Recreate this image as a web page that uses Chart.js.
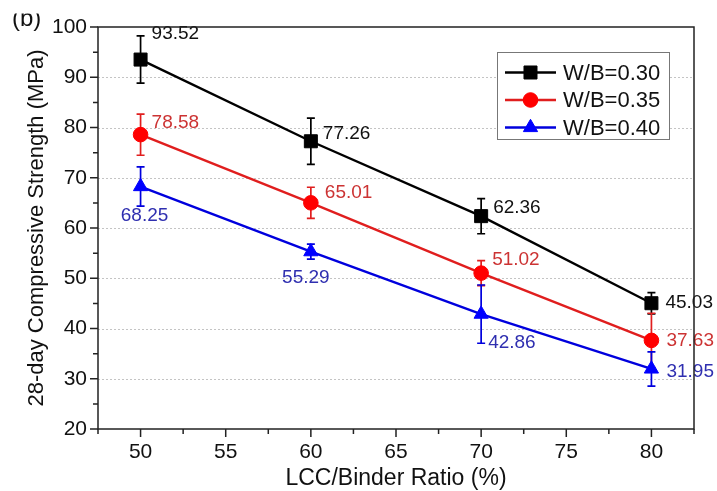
<!DOCTYPE html>
<html>
<head>
<meta charset="utf-8">
<script src="https://cdn.jsdelivr.net/npm/chart.js@4.4.1/dist/chart.umd.min.js"></script>
<style>
  html, body { margin: 0; padding: 0; background: #fff; }
  #wrap { width: 717px; height: 491px; position: relative; }
</style>
</head>
<body>
<div id="wrap"><canvas id="strength-chart"></canvas></div>
<script>
// LCC/binder ratio (%) against 28-day compressive strength (MPa)
const lccRatio = [50, 60, 70, 80];
const strengthWB030 = [93.52, 77.26, 62.36, 45.03];
const strengthWB035 = [78.58, 65.01, 51.02, 37.63];
const strengthWB040 = [68.25, 55.29, 42.86, 31.95];
const errorWB030 = [4.7, 4.6, 3.5, 2.1];
const errorWB035 = [4.1, 3.1, 2.5, 5.4];
const errorWB040 = [3.9, 1.5, 5.8, 3.4];
const seriesNames = ['W/B=0.30', 'W/B=0.35', 'W/B=0.40'];
const xTicks = [50, 55, 60, 65, 70, 75, 80];
const yTicks = [20, 30, 40, 50, 60, 70, 80, 90, 100];

// where each value label sits relative to its point: [dx, dy, align]
const placeWB030 = [[11, -26, 'left'], [12, -8, 'left'], [12, -8, 'left'], [14, 0, 'left']];
const placeWB035 = [[11, -12, 'left'], [14, -10, 'left'], [11, -13, 'left'], [15, 0, 'left']];
const placeWB040 = [[4, 29, 'center'], [-5, 26, 'center'], [7, 29, 'left'], [15, 3, 'left']];

const FONT = '"Liberation Sans", Arial, Helvetica, sans-serif';
Chart.defaults.font.family = FONT;
Chart.defaults.color = '#111';

function makeSeries(label, values, errors, line, fill, style, radius, textColor, place) {
    return {
        label: label,
        data: lccRatio.map((x, i) => ({ x: x, y: values[i] })),
        errors: errors,
        textColor: textColor,
        place: place,
        borderColor: line,
        backgroundColor: fill,
        pointBackgroundColor: fill,
        pointBorderColor: fill,
        pointStyle: style,
        pointRadius: radius,
        pointHoverRadius: radius,
        pointBorderWidth: 1,
        borderWidth: 2.4,
        tension: 0,
        clip: false
    };
}

// small marker for the legend, same shapes as the chart points
function drawMarker(ctx, style, r, x, y) {
    ctx.beginPath();
    if (style === 'rect') {
        const s = Math.SQRT1_2 * r;
        ctx.rect(x - s, y - s, 2 * s, 2 * s);
    } else if (style === 'triangle') {
        ctx.moveTo(x, y - r);
        ctx.lineTo(x + 0.866 * r, y + 0.5 * r);
        ctx.lineTo(x - 0.866 * r, y + 0.5 * r);
        ctx.closePath();
    } else {
        ctx.arc(x, y, r, 0, Math.PI * 2);
    }
    ctx.fill();
    ctx.stroke();
}

// dotted horizontal grid + error bars, under the lines
const underlay = {
    id: 'underlay',
    beforeDatasetsDraw(chart) {
        const { ctx, chartArea } = chart;
        const ys = chart.scales.y;
        ctx.save();
        ctx.strokeStyle = '#c4c4c4';
        ctx.lineWidth = 1;
        ctx.setLineDash([2, 2]);
        yTicks.slice(1, -1).forEach(v => {
            const py = Math.round(ys.getPixelForValue(v)) + 0.5;
            ctx.beginPath();
            ctx.moveTo(chartArea.left, py);
            ctx.lineTo(chartArea.right, py);
            ctx.stroke();
        });
        ctx.setLineDash([]);
        chart.data.datasets.forEach((ds, di) => {
            const meta = chart.getDatasetMeta(di);
            ctx.strokeStyle = ds.borderColor;
            ctx.lineWidth = 1.7;
            meta.data.forEach((pt, i) => {
                const v = ds.data[i].y;
                const e = ds.errors[i];
                const top = ys.getPixelForValue(v + e);
                const bot = ys.getPixelForValue(v - e);
                ctx.beginPath();
                ctx.moveTo(pt.x, top); ctx.lineTo(pt.x, bot);
                ctx.moveTo(pt.x - 4, top); ctx.lineTo(pt.x + 4, top);
                ctx.moveTo(pt.x - 4, bot); ctx.lineTo(pt.x + 4, bot);
                ctx.stroke();
            });
        });
        ctx.restore();
    }
};

// value labels next to each point
const valueLabels = {
    id: 'valueLabels',
    afterDatasetsDraw(chart) {
        const { ctx } = chart;
        ctx.save();
        ctx.font = '19px ' + FONT;
        ctx.textBaseline = 'middle';
        chart.data.datasets.forEach((ds, di) => {
            const meta = chart.getDatasetMeta(di);
            ctx.fillStyle = ds.textColor;
            meta.data.forEach((pt, i) => {
                const p = ds.place[i];
                ctx.textAlign = p[2];
                ctx.fillText(ds.data[i].y.toFixed(2), pt.x + p[0], pt.y + p[1]);
            });
        });
        ctx.restore();
    }
};

// frame, outward ticks, legend box and panel letter
const frame = {
    id: 'frame',
    afterDraw(chart) {
        const { ctx, chartArea } = chart;
        const { left, right, top, bottom } = chartArea;
        const xs = chart.scales.x, ys = chart.scales.y;
        ctx.save();
        ctx.strokeStyle = '#222';
        ctx.lineWidth = 1.5;
        ctx.strokeRect(left, top, right - left, bottom - top);

        ctx.beginPath();
        xTicks.forEach((v, i) => {
            const px = xs.getPixelForValue(v);
            ctx.moveTo(px, bottom); ctx.lineTo(px, bottom + 8);
            const mids = [v + 2.5];
            if (i === 0) mids.push(v - 2.5);
            mids.forEach(m => {
                const mx = xs.getPixelForValue(m);
                ctx.moveTo(mx, bottom); ctx.lineTo(mx, bottom + 5);
            });
        });
        yTicks.forEach((v, i) => {
            const py = ys.getPixelForValue(v);
            ctx.moveTo(left, py); ctx.lineTo(left - 8, py);
            if (i < yTicks.length - 1) {
                const my = ys.getPixelForValue(v + 5);
                ctx.moveTo(left, my); ctx.lineTo(left - 5, my);
            }
        });
        ctx.stroke();

        // legend
        const bx = right - 197, by = top + 25, bw = 172, bh = 87;
        ctx.fillStyle = '#fff';
        ctx.fillRect(bx, by, bw, bh);
        ctx.strokeStyle = '#777';
        ctx.lineWidth = 1;
        ctx.strokeRect(bx + 0.5, by + 0.5, bw, bh);
        ctx.font = '22px ' + FONT;
        ctx.textBaseline = 'middle';
        ctx.textAlign = 'left';
        chart.data.datasets.forEach((ds, di) => {
            const ry = by + 20.5 + di * 27.5;
            ctx.strokeStyle = ds.borderColor;
            ctx.lineWidth = 2.4;
            ctx.beginPath();
            ctx.moveTo(bx + 8, ry); ctx.lineTo(bx + 59, ry);
            ctx.stroke();
            ctx.fillStyle = ds.backgroundColor;
            ctx.strokeStyle = ds.backgroundColor;
            ctx.lineWidth = 1;
            drawMarker(ctx, ds.pointStyle, ds.pointRadius, bx + 33.5, ry);
            ctx.fillStyle = '#111';
            ctx.fillText(ds.label, bx + 66, ry + 1);
        });

        // panel letter, top edge trimmed
        ctx.beginPath();
        ctx.rect(0, 13.5, 60, 30);
        ctx.clip();
        ctx.fillStyle = '#111';
        ctx.font = '24px ' + FONT;
        ctx.textBaseline = 'alphabetic';
        ctx.fillText('(b)', 12, 25.5);
        ctx.restore();
    }
};

const chart = new Chart(document.getElementById('strength-chart'), {
    type: 'line',
    data: {
        datasets: [
            makeSeries(seriesNames[0], strengthWB030, errorWB030, '#000000', '#000000', 'rect', 9.2, '#111111', placeWB030),
            makeSeries(seriesNames[1], strengthWB035, errorWB035, '#e01e1e', '#ff0000', 'circle', 7.3, '#cc3333', placeWB035),
            makeSeries(seriesNames[2], strengthWB040, errorWB040, '#0000dd', '#0000ff', 'triangle', 8.2, '#2f2fb0', placeWB040)
        ]
    },
    options: {
        responsive: true,
        maintainAspectRatio: false,
        animation: false,
        layout: { padding: { left: 0, top: 27, right: 23, bottom: 0 } },
        plugins: {
            legend: { display: false },
            tooltip: { enabled: false }
        },
        scales: {
            x: {
                type: 'linear',
                min: 47.5,
                max: 82.5,
                afterBuildTicks: s => { s.ticks = xTicks.map(v => ({ value: v })); },
                afterFit: s => { s.height = 62; },
                grid: { display: false, drawTicks: false },
                border: { display: false },
                ticks: { color: '#111', font: { size: 21 }, padding: 11, maxRotation: 0, autoSkip: false },
                title: {
                    display: true,
                    text: 'LCC/Binder Ratio (%)',
                    color: '#111',
                    font: { size: 23, lineHeight: 1.1 },
                    padding: { top: 0, bottom: 0 }
                }
            },
            y: {
                type: 'linear',
                min: 20,
                max: 100,
                afterBuildTicks: s => { s.ticks = yTicks.map(v => ({ value: v })); },
                afterFit: s => { s.width = 98; },
                grid: { display: false, drawTicks: false },
                border: { display: false },
                ticks: { color: '#111', font: { size: 21 }, padding: 11 },
                title: {
                    display: true,
                    text: '28-day Compressive Strength (MPa)',
                    color: '#111',
                    font: { size: 22 },
                    padding: { top: 24, bottom: 0 }
                }
            }
        }
    },
    plugins: [underlay, valueLabels, frame]
});
</script>
</body>
</html>
